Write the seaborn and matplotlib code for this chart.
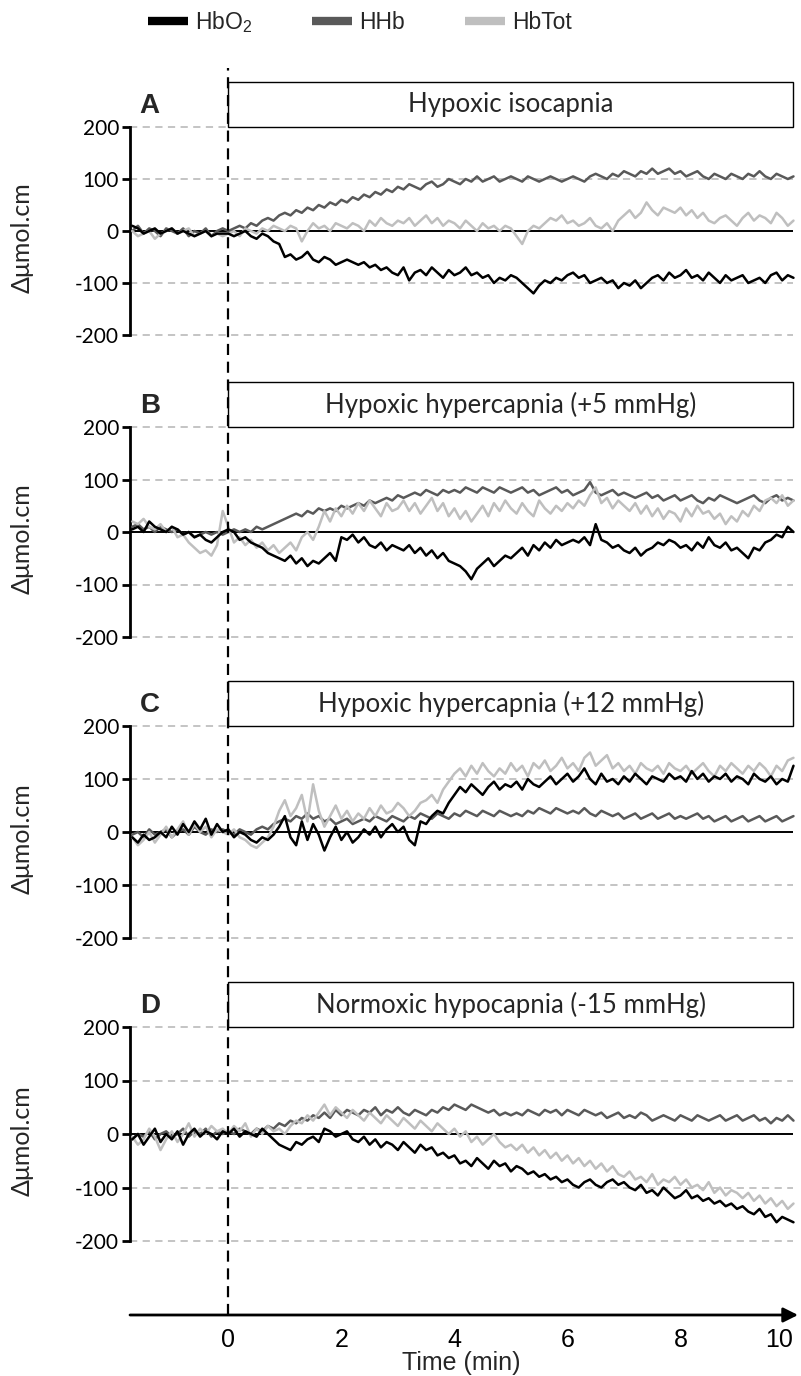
import numpy as np
import pandas as pd
import matplotlib
matplotlib.use("Agg")
import matplotlib.pyplot as plt
import seaborn as sns
from matplotlib.lines import Line2D
from matplotlib.patches import Rectangle

sns.set_style("white")
plt.rcParams["font.family"] = ["Lato", "DejaVu Sans"]
plt.rcParams["mathtext.fontset"] = "custom"
plt.rcParams["mathtext.rm"] = "Liberation Sans"
plt.rcParams["mathtext.default"] = "regular"
ARIAL = ["Liberation Sans", "DejaVu Sans"]

# ---------------- data ----------------
time_min = np.round(np.arange(-1.7, 10.05, 0.1), 2)  # 118 samples

series_names = ["HbO$_2$", "HHb", "HbTot"]
series_colors = ["#000000", "#595959", "#bfbfbf"]
panel_letters = ["A", "B", "C", "D"]
panel_titles = ["Hypoxic isocapnia", "Hypoxic hypercapnia (+5 mmHg)",
                "Hypoxic hypercapnia (+12 mmHg)", "Normoxic hypocapnia (-15 mmHg)"]
y_ticks = [-200, -100, 0, 100, 200]
x_ticks = [0, 2, 4, 6, 8, 10]

A_HbO2 = [10, 5, -5, 0, 5, -5, 0, 5, -5, 0, -5, -10, -5, 0, -10, -5, -5,
          -5, -10, -5, 0, -10, -15, -5, -10, -20, -25, -50,
          -45, -55, -50, -40, -55, -60, -50, -55, -65, -60,
          -55, -60, -65, -60, -70, -65, -75, -70, -80, -85,
          -70, -95, -80, -75, -85, -70, -80, -90, -75, -85,
          -80, -70, -85, -80, -90, -85, -100, -90, -95, -85,
          -90, -100, -110, -120, -105, -95, -100, -90, -95, -85,
          -80, -90, -85, -100, -95, -90, -100, -95, -110, -100,
          -105, -95, -110, -100, -90, -85, -95, -80, -90, -85,
          -75, -90, -85, -95, -80, -90, -100, -85, -95, -90,
          -85, -100, -95, -90, -100, -85, -80, -95, -85, -90]
A_HHb = [0, 10, -5, 5, 0, -10, 5, 0, -5, 5, -10, 0, -5, 5, -10, 0, 5,
         0, 5, 10, 5, 15, 10, 20, 25, 20, 30, 35,
         30, 40, 35, 45, 40, 50, 45, 55, 50, 60,
         55, 65, 60, 70, 65, 75, 70, 80, 75, 85,
         80, 90, 85, 80, 90, 95, 85, 90, 100, 95,
         90, 100, 95, 105, 95, 100, 105, 95, 100, 105,
         100, 95, 105, 100, 95, 100, 105, 100, 95, 100,
         105, 100, 95, 105, 110, 105, 100, 110, 105, 115,
         110, 105, 115, 110, 120, 110, 115, 120, 110, 115,
         105, 110, 115, 105, 100, 110, 105, 100, 110, 105,
         100, 110, 105, 115, 105, 100, 110, 105, 100, 105]
A_HbTot = [0, -10, -5, 0, -15, -5, 0, 5, -5, 0, 5, -10, -5, 0, -10, -5, -10,
           -5, 0, -10, 5, 0, -5, 5, 0, 10, 5, 0,
           10, 5, -20, 0, 15, 5, 10, 0, 15, 10,
           5, 15, 10, 0, 20, 10, 25, 15, 10, 20,
           15, 25, 10, 20, 30, 15, 25, 10, 20, 15,
           5, 20, 10, 0, 15, 5, 10, 0, 10, 5,
           -10, -25, 0, 10, 5, 15, 25, 20, 30, 15,
           20, 10, 15, 25, 10, 5, 15, 0, 20, 30,
           40, 25, 35, 55, 40, 30, 45, 40, 35, 45,
           30, 40, 25, 35, 20, 15, 25, 30, 20, 10,
           25, 35, 20, 30, 25, 15, 35, 25, 10, 20]

B_HbO2 = [5, 10, 0, 20, 10, 5, 0, 10, 5, -5, 0, -10, -5, -15, -20, -10, 0,
          5, 0, -15, -10, -20, -25, -30, -40, -45, -50, -55,
          -45, -60, -50, -65, -55, -60, -50, -40, -55, -10,
          -15, -5, -20, -10, -25, -30, -20, -35, -25, -30,
          -35, -25, -40, -30, -45, -35, -50, -40, -55, -60,
          -65, -75, -90, -70, -60, -50, -65, -55, -45, -50,
          -40, -30, -45, -25, -35, -20, -30, -15, -25, -20,
          -15, -20, -10, -25, 15, -15, -20, -30, -25, -35,
          -40, -30, -45, -35, -30, -20, -25, -15, -20, -30,
          -25, -35, -20, -30, -10, -25, -30, -20, -35, -30,
          -40, -50, -30, -35, -20, -15, -5, -10, 10, 0]
B_HHb = [10, 15, 5, 10, 0, 10, 5, 0, 5, -5, 0, -10, -5, 0, -5, 0, -5,
         0, 5, 0, 5, 0, 10, 5, 10, 15, 20, 25,
         30, 35, 30, 40, 35, 45, 40, 45, 40, 50,
         45, 50, 55, 50, 60, 55, 60, 65, 60, 70,
         65, 70, 75, 70, 80, 75, 70, 80, 75, 80,
         75, 85, 80, 75, 85, 80, 75, 85, 80, 75,
         80, 85, 75, 80, 70, 75, 80, 85, 75, 80,
         70, 75, 80, 95, 75, 70, 75, 80, 70, 75,
         70, 65, 70, 75, 65, 70, 60, 65, 70, 60,
         65, 70, 60, 55, 65, 60, 70, 65, 60, 55,
         60, 65, 70, 60, 55, 65, 70, 60, 65, 60]
B_HbTot = [20, 15, 25, 10, 5, 15, 0, 10, -10, -5, -20, -30, -40, -35, -45, -25, 40,
           10, -20, -10, -25, -15, -30, -20, -35, -25, -40, -30,
           -20, -35, -10, 0, -15, 10, 40, 20, 45, 30,
           50, 35, 55, 40, 60, 45, 30, 55, 40, 45,
           60, 40, 55, 35, 50, 65, 40, 55, 30, 45,
           25, 40, 20, 35, 50, 30, 55, 40, 60, 45,
           35, 55, 40, 30, 60, 45, 35, 50, 40, 55,
           45, 60, 50, 70, 85, 55, 65, 45, 60, 50,
           40, 55, 35, 50, 30, 45, 25, 40, 35, 20,
           45, 30, 50, 35, 40, 25, 35, 15, 30, 20,
           40, 30, 50, 40, 60, 65, 55, 70, 50, 60]

C_HbO2 = [-10, -20, -5, -15, -10, 0, -10, 10, -5, 15, 0, 20, 5, 25, -5, 15, 0,
          5, -10, 0, -5, -15, -20, -10, -15, -5, 10, 30,
          -10, -25, 20, -15, 15, -5, -35, -10, 10, -15,
          0, -20, -10, 5, -5, 10, -10, 5, 15, 0,
          10, -15, -25, 20, 15, 30, 40, 35, 55, 70,
          85, 75, 90, 80, 70, 85, 95, 80, 90, 85,
          95, 80, 100, 90, 85, 95, 105, 90, 100, 110,
          95, 105, 120, 100, 90, 110, 95, 100, 90, 105,
          95, 110, 100, 90, 105, 100, 95, 110, 100, 105,
          95, 115, 100, 110, 95, 105, 100, 110, 95, 105,
          100, 90, 110, 100, 95, 105, 90, 100, 95, 125]
C_HHb = [-5, 0, -10, 5, -5, 0, 5, -10, 0, 5, -5, 10, 0, -5, 5, 0, 5,
         0, -5, 5, 0, -5, 5, 10, 5, 15, 20, 25,
         20, 30, 25, 35, 25, 30, 20, 25, 15, 20,
         25, 15, 20, 25, 20, 30, 25, 20, 30, 25,
         20, 30, 25, 35, 30, 25, 35, 30, 25, 35,
         30, 40, 35, 30, 40, 35, 30, 40, 35, 30,
         35, 30, 40, 35, 45, 40, 35, 45, 40, 35,
         40, 35, 45, 35, 30, 40, 35, 30, 35, 25,
         30, 35, 25, 30, 35, 25, 30, 35, 25, 30,
         25, 30, 35, 25, 30, 20, 25, 30, 20, 25,
         30, 20, 25, 30, 20, 25, 30, 20, 25, 30]
C_HbTot = [-10, -25, -15, 0, -20, -5, 10, -10, 5, 20, -5, 15, 0, 10, -10, 5, 0,
           -5, 5, -10, -15, -25, -30, -20, -10, 10, 40, 60,
           30, 45, 70, 20, 90, 40, 10, 30, 50, 25,
           40, 20, 35, 25, 45, 30, 50, 35, 40, 55,
           45, 30, 40, 55, 60, 70, 55, 80, 95, 110,
           120, 105, 125, 110, 130, 115, 105, 120, 110, 130,
           115, 125, 105, 130, 120, 135, 115, 125, 140, 120,
           130, 115, 140, 150, 125, 135, 145, 120, 130, 115,
           125, 110, 130, 120, 115, 125, 110, 130, 120, 115,
           125, 110, 120, 130, 115, 105, 125, 115, 130, 120,
           110, 125, 115, 130, 120, 105, 125, 115, 135, 140]

D_HbO2 = [-10, 0, -20, -5, 10, -15, 0, -10, 5, -20, 0, 10, -5, 5, 0, -10, 5,
          0, 10, -5, 5, 0, -5, 10, 0, -10, -20, -25,
          -30, -15, -20, -10, -5, -15, 10, 5, -5, 0,
          5, -10, -15, -5, -20, -10, -25, -15, -20, -30,
          -15, -25, -35, -20, -30, -25, -40, -35, -45, -40,
          -55, -50, -60, -45, -55, -65, -50, -60, -55, -70,
          -60, -65, -75, -70, -80, -75, -85, -80, -90, -85,
          -95, -100, -90, -85, -95, -100, -90, -85, -95, -90,
          -100, -105, -95, -110, -105, -115, -100, -110, -120, -115,
          -105, -120, -115, -125, -120, -130, -125, -135, -130, -140,
          -135, -145, -150, -140, -155, -150, -165, -155, -160, -165]
D_HHb = [-10, 0, -5, 5, -10, 0, 5, -5, 0, 10, -5, 5, 0, 10, -5, 5, 0,
         5, 0, 10, 5, 0, 10, 5, 15, 10, 20, 15,
         25, 20, 30, 25, 35, 30, 40, 30, 45, 35,
         45, 40, 35, 45, 40, 50, 35, 45, 40, 50,
         40, 35, 45, 40, 35, 45, 40, 50, 45, 55,
         50, 45, 55, 50, 45, 40, 45, 35, 40, 35,
         40, 35, 45, 40, 35, 45, 40, 45, 35, 45,
         40, 35, 45, 40, 35, 40, 30, 35, 40, 30,
         35, 30, 40, 35, 25, 30, 35, 30, 25, 35,
         30, 25, 35, 30, 25, 30, 35, 25, 30, 35,
         25, 30, 35, 25, 30, 20, 30, 25, 35, 25]
D_HbTot = [-5, -20, -10, 10, -5, -30, -10, 5, -15, 0, 20, -5, 10, 0, 15, 5, 10,
           0, 15, 5, 20, -5, 10, 0, 15, 5, 10, 0,
           15, 25, 20, 35, 25, 40, 55, 35, 50, 40,
           30, 45, 35, 25, 40, 30, 20, 35, 25, 15,
           30, 20, 10, 25, 15, 5, 20, 10, 0, 10,
           -5, 5, -15, -5, -20, -10, 0, -15, -25, -20,
           -30, -20, -35, -25, -40, -30, -45, -35, -50, -40,
           -55, -45, -60, -50, -65, -55, -70, -60, -75, -80,
           -70, -85, -80, -90, -75, -95, -85, -90, -80, -95,
           -85, -100, -95, -105, -90, -110, -100, -115, -105, -110,
           -120, -110, -125, -115, -130, -120, -135, -125, -140, -130]

panels = [(A_HbO2, A_HHb, A_HbTot), (B_HbO2, B_HHb, B_HbTot),
          (C_HbO2, C_HHb, C_HbTot), (D_HbO2, D_HHb, D_HbTot)]

# ---------------- layout ----------------
W, H = 801, 1376
fig = plt.figure(figsize=(W / 100, H / 100), dpi=100)
X0PX, X1PX = 130, 798
XLIM = (-1.74, 10.08)
SCALES = [0.52, 0.525, 0.53, 0.535]  # px per unit, per panel
LINE200 = [127, 427, 726, 1027]      # px of y=200 in each panel
ABOVE, PANEL_H = 55, 300

palette = dict(zip(series_names, series_colors))
draw_order = ["HHb", "HbTot", "HbO$_2$"]

for k in range(4):
    sc = SCALES[k]
    top_px = LINE200[k] - ABOVE
    bot_px = top_px + PANEL_H
    ax = fig.add_axes([X0PX / W, 1 - bot_px / H, (X1PX - X0PX) / W, PANEL_H / H])
    ax.patch.set_alpha(0)
    y_lo = 200 - (PANEL_H - ABOVE) / sc
    y_hi = 200 + ABOVE / sc
    rows = []
    for name, vals in zip(series_names, panels[k]):
        rows.append(pd.DataFrame({"t": time_min, "v": vals, "s": name}))
    df = pd.concat(rows, ignore_index=True)
    sns.lineplot(data=df, x="t", y="v", hue="s", hue_order=draw_order,
                 palette=palette, estimator=None, lw=1.8, legend=False,
                 ax=ax, zorder=3)
    ax.hlines([-200, -100, 100, 200], XLIM[0], 10, colors="#bfbfbf",
              linestyles=(0, (4, 3)), lw=1.3, zorder=1)
    ax.hlines(0, XLIM[0], 10, colors="black", lw=1.4, zorder=2)
    ax.set_xlim(*XLIM)
    ax.set_ylim(y_lo, y_hi)
    for s in ["top", "right", "bottom"]:
        ax.spines[s].set_visible(False)
    ax.spines["left"].set_bounds(-200, 200)
    ax.spines["left"].set_linewidth(2)
    ax.spines["left"].set_color("black")
    ax.set_xticks([])
    ax.set_yticks(y_ticks)
    ax.set_yticklabels([str(v) for v in y_ticks])
    ax.tick_params(axis="y", direction="out", length=6, width=2,
                   labelsize=15, pad=2, left=True, colors="black")
    ax.set_xlabel("")
    ax.set_ylabel("Δμmol.cm", fontsize=18)
    frac = (-12 - y_lo) / (y_hi - y_lo)
    ax.yaxis.set_label_coords(-0.145, frac)
    box_h = 45 / sc
    ax.add_patch(Rectangle((0, 200), 10, box_h, facecolor="white",
                           edgecolor="black", lw=1.0, zorder=5))
    ax.text(5, 200 + box_h / 2, panel_titles[k], ha="center", va="center",
            fontsize=18.5, zorder=6)
    ax.text(-1.39, 200 + 21 / sc, panel_letters[k], ha="center", va="center",
            fontsize=20, fontweight="bold", family=ARIAL)

# overlay axis: vertical dashed line and time axis
AX_BOT, AX_TOP = 1315, 68
ax0 = fig.add_axes([X0PX / W, 1 - AX_BOT / H, (X1PX - X0PX) / W, (AX_BOT - AX_TOP) / H])
ax0.patch.set_alpha(0)
ax0.set_xlim(*XLIM)
ax0.set_ylim(0, 1)
ax0.axvline(0, color="black", ls=(0, (5, 3)), lw=1.6)
for s in ax0.spines.values():
    s.set_visible(False)
ax0.annotate("", xy=(XLIM[1], 0), xytext=(XLIM[0], 0),
             xycoords="data", textcoords="data", annotation_clip=False,
             arrowprops=dict(arrowstyle="-|>", lw=2, color="black",
                             mutation_scale=22, shrinkA=0, shrinkB=0))
ax0.set_xticks(x_ticks)
ax0.set_xticklabels([str(v) for v in x_ticks], family=ARIAL)
ax0.get_xticklabels()[-1].set_horizontalalignment("right")
ax0.set_yticks([])
ax0.tick_params(axis="x", direction="inout", length=9, width=1.5,
                labelsize=18, pad=5, colors="black")
ax0.set_xlabel("")
fig.text(461 / W, 1 - 1363 / H, "Time (min)", ha="center", va="center",
         fontsize=18, family=ARIAL)

handles = [Line2D([], [], color=c, lw=6, solid_capstyle="butt") for c in series_colors]
fig.legend(handles, series_names, loc="center", bbox_to_anchor=(0.449, 1 - 22 / H),
           ncol=3, frameon=False, handlelength=1.75, columnspacing=2.6,
           handletextpad=0.32, prop={"family": ARIAL, "size": 16.5})

fig.savefig("out.png", dpi=100)
